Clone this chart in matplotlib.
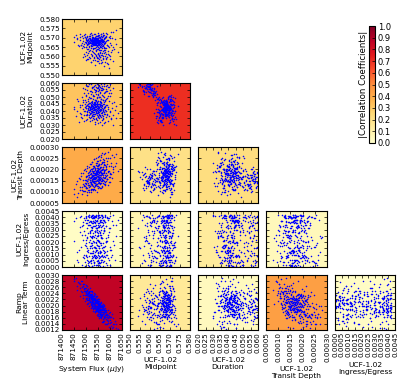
import numpy as np
import matplotlib
matplotlib.use('Agg')
import matplotlib.pyplot as plt
from matplotlib.ticker import FormatStrFormatter

# posterior samples: main clump, dense core of it, second clump, wide scatter, more of second clump
flux = [871452,871461,871468,871473,871477,871480,871484,871487,871489,871492,
871494,871496,871498,871499,871501,871502,871504,871505,871506,871508,
871509,871510,871511,871512,871513,871514,871515,871516,871516,871517,
871518,871519,871520,871520,871521,871522,871523,871523,871524,871525,
871525,871526,871527,871527,871528,871529,871529,871530,871531,871531,
871532,871533,871533,871534,871535,871535,871536,871537,871537,871538,
871539,871539,871540,871541,871541,871542,871543,871543,871544,871545,
871545,871546,871547,871548,871548,871549,871550,871551,871551,871552,
871553,871554,871555,871555,871556,871557,871558,871559,871560,871561,
871562,871563,871564,871565,871566,871568,871569,871570,871572,871573,
871575,871577,871579,871581,871583,871586,871589,871593,871598,871606,
871500,871503,871506,871508,871510,871512,871514,871516,871518,871519,
871521,871522,871524,871525,871526,871527,871528,871529,871530,871531,
871532,871533,871534,871535,871536,871537,871538,871539,871540,871541,
871542,871543,871544,871545,871546,871547,871548,871549,871550,871551,
871552,871553,871554,871555,871556,871557,871558,871559,871560,871561,
871562,871564,871565,871567,871569,871571,871574,871576,871580,871584,
871487,871493,871498,871502,871506,871510,871513,871516,871519,871522,
871525,871527,871530,871532,871535,871537,871540,871542,871544,871546,
871548,871550,871552,871554,871556,871558,871560,871562,871564,871566,
871568,871571,871573,871575,871578,871580,871583,871586,871589,871592,
871595,871598,871602,871606,871611,
871448,871458,871464,871470,871474,871478,871482,871485,871488,871490,
871493,871495,871497,871500,871502,871504,871506,871508,871510,871512,
871513,871515,871516,871518,871519,871521,871522,871523,871525,871526,
871527,871528,871530,871531,871532,871533,871534,871536,871537,871538,
871539,871540,871541,871542,871544,871545,871546,871547,871548,871549,
871550,871551,871552,871554,871555,871556,871557,871558,871559,871560,
871561,871562,871563,871564,871565,871566,871567,871568,871569,871570,
871571,871572,871574,871575,871576,871577,871578,871580,871581,871582,
871584,871585,871587,871588,871590,871592,871594,871596,871599,871602,
871604,871607,871609,871612,871614,871617,871620,871623,871627,871632,
871495,871503,871508,871514,871520,871524,871528,871533,871536,871539,
871541,871543,871547,871549,871551,871553,871555,871557,871559,871561,
871563,871565,871569,871572,871576,871579,871582,871585,871590,871597]

midpoint = [567.8,569.4,566.3,570.1,568.5,565.9,567.2,569.8,568.1,566.7,
570.6,567.5,568.9,565.2,569.1,567.9,566.1,568.4,570.3,567.1,
568.7,566.5,569.6,567.4,568.2,564.8,569.3,567.7,568.8,566.9,
570.9,568.3,567.0,569.0,565.7,568.6,567.6,569.7,566.4,568.0,
571.4,567.3,568.5,569.2,566.0,567.8,568.9,570.4,567.2,568.3,
566.6,569.5,568.1,567.5,564.2,568.7,570.0,567.0,569.1,568.4,
566.2,567.9,569.9,568.2,567.4,571.0,568.6,566.8,569.4,567.6,
568.0,565.5,569.0,567.3,570.7,568.8,566.3,567.7,569.3,568.5,
563.6,567.1,568.3,570.2,566.7,569.6,567.8,568.9,565.0,568.2,
571.9,567.4,569.2,566.5,568.6,570.5,567.9,568.1,572.6,566.9,
569.7,568.4,564.5,567.5,570.8,566.1,568.7,569.0,567.2,573.1,
567.3,568.6,566.4,569.1,567.9,568.2,566.9,569.5,567.6,568.4,
566.2,568.8,567.1,569.3,568.0,567.5,566.6,568.7,567.8,569.0,
568.3,566.8,567.4,569.7,568.1,566.5,568.5,567.2,569.2,567.7,
568.9,566.3,567.0,568.6,569.4,567.9,566.7,568.2,567.3,569.6,
568.4,566.1,567.6,568.8,567.1,569.8,568.0,566.4,567.5,568.5,
569.0,566.9,567.8,568.3,566.0,568.7,567.2,569.3,567.4,568.1,
559.8,561.4,557.9,562.3,560.5,558.6,563.1,559.2,561.0,556.8,
560.1,562.7,558.2,559.5,561.8,555.2,560.8,563.6,557.4,559.0,
561.2,558.9,562.0,560.3,556.2,559.7,561.6,558.0,563.3,560.6,
557.1,559.3,561.9,554.6,560.0,562.5,558.4,559.9,556.5,561.3,
553.8,560.4,558.7,562.1,557.6,
570.5,571.2,569.9,565.3,571.8,566.2,564.4,570.9,565.8,571.5,
564.9,570.2,572.1,565.1,569.7,563.9,571.0,566.6,564.1,570.7,
565.4,571.7,563.4,569.8,566.0,572.4,564.7,570.4,565.6,571.3,
566.9,563.7,570.0,564.3,571.9,565.9,569.5,572.0,564.6,566.4,
570.6,563.2,571.1,565.2,569.9,564.0,570.8,566.1,572.3,565.0,
563.8,571.4,566.5,570.3,564.5,571.6,565.7,569.6,563.5,570.1,
564.8,571.0,566.3,572.2,565.5,570.5,564.2,569.4,571.2,563.1,
565.3,570.9,566.8,564.7,571.5,565.0,570.2,563.6,569.9,572.5,
564.4,570.6,566.0,571.8,565.6,562.8,570.4,564.9,569.7,571.1,
566.2,563.3,570.0,565.1,572.8,564.1,569.5,566.7,574.2,562.2,
560.3,558.4,561.7,559.6,557.0,560.9,562.1,559.1,561.1,558.1,
560.2,563.0,559.4,557.7,561.5,560.7,558.5,562.4,559.6,556.6,
560.9,561.9,558.8,560.0,563.4,557.2,559.3,561.4,555.8,560.5]

duration = [43.2,40.1,46.8,38.5,42.7,35.9,44.6,41.3,48.2,37.4,
45.1,39.8,43.9,33.6,41.9,46.3,38.2,44.2,36.8,42.4,
47.4,40.6,35.4,43.5,39.3,45.8,41.2,37.9,49.1,42.1,
34.8,44.8,40.3,38.9,46.1,42.9,36.4,43.7,41.5,39.5,
37.2,45.4,41.8,44.1,35.1,40.8,48.6,38.1,43.1,42.3,
46.6,39.1,36.1,44.4,41.1,37.7,43.3,47.8,40.4,45.6,
32.4,42.6,38.7,46.9,41.6,34.2,44.9,39.9,43.6,37.0,
45.2,40.9,49.7,36.6,42.0,38.4,47.1,43.8,35.6,41.4,
39.2,44.7,37.5,42.8,50.3,40.7,46.4,36.2,43.4,45.9,
38.8,41.7,44.3,29.8,42.2,39.6,47.6,35.3,40.0,43.0,
31.5,46.2,41.0,37.8,44.5,49.4,36.9,42.5,39.0,34.4,
42.1,44.6,39.8,43.3,41.2,45.5,40.6,42.8,38.9,44.1,
41.7,43.9,40.1,46.2,42.4,39.4,44.9,41.0,43.5,38.2,
45.1,42.0,40.9,43.1,37.6,44.4,41.5,46.7,39.6,42.7,
43.7,40.3,45.8,41.9,38.6,44.0,42.3,39.1,47.0,41.3,
43.2,40.7,45.3,38.0,42.6,44.7,39.9,41.6,43.6,46.0,
40.4,42.9,37.1,44.3,41.1,45.0,39.3,42.2,43.8,40.0,
56.2,53.1,58.4,51.7,55.0,57.6,49.8,54.3,59.2,52.4,
56.9,53.8,57.1,50.6,55.6,58.8,54.7,52.1,56.4,59.6,
51.2,57.3,54.0,55.3,58.1,53.4,50.2,56.7,48.9,54.9,
57.9,55.9,52.8,59.0,53.6,47.6,56.0,58.3,54.5,51.0,
57.0,55.1,59.4,52.6,56.5,
41.2,36.1,48.5,31.9,44.0,38.0,50.1,35.0,46.7,40.2,
33.0,47.9,42.6,36.9,51.0,39.4,34.1,45.3,48.8,37.3,
43.0,32.7,46.0,40.5,35.7,49.5,38.6,44.4,33.9,47.2,
41.8,36.5,50.6,39.0,34.6,45.7,42.2,30.9,48.0,37.9,
44.8,35.3,47.5,40.0,33.3,49.0,38.3,46.5,36.0,43.4,
31.2,45.1,39.7,50.0,34.9,42.0,47.0,37.0,44.6,32.1,
48.3,40.8,35.5,46.2,38.8,51.5,33.6,43.7,41.0,36.3,
47.7,34.3,45.0,39.3,49.8,37.6,42.8,32.4,46.8,40.3,
35.9,48.9,38.1,44.2,33.2,41.5,47.3,36.7,50.4,39.8,
34.7,45.6,42.4,37.2,30.1,46.1,40.7,35.2,43.8,38.4,
55.5,57.8,52.9,59.1,54.6,56.3,51.4,58.0,55.2,53.5,
57.4,54.1,59.8,56.1,52.2,58.6,55.7,53.0,57.2,54.8,
59.3,56.6,50.9,55.4,58.2,53.7,57.5,54.4,56.8,52.5]

depth = [11.2,14.6,9.4,15.8,12.3,16.9,10.7,13.5,18.2,12.8,
15.1,10.3,19.4,13.9,16.4,12.1,14.8,20.7,11.9,17.3,
15.6,13.2,18.8,10.9,16.7,21.1,14.2,17.9,12.6,19.8,
15.3,22.4,13.7,18.1,16.2,11.4,20.2,14.9,17.4,19.1,
13.1,16.8,23.2,15.4,18.6,12.4,20.8,17.1,14.5,19.3,
16.3,21.6,13.9,18.4,15.7,24.8,17.8,12.9,19.9,16.1,
20.6,14.7,18.3,22.9,16.5,19.2,13.4,17.6,21.4,15.2,
18.9,23.7,16.9,20.1,14.1,19.6,25.4,17.2,21.8,15.9,
20.4,13.8,18.7,22.2,16.6,24.1,19.1,15.4,21.2,17.7,
19.7,26.3,16.2,22.7,18.2,14.6,20.9,24.6,17.5,21.9,
19.4,23.3,16.7,27.2,20.3,15.8,22.4,25.1,18.6,21.5,
13.5,16.9,14.8,18.3,15.6,13.2,17.4,15.1,19.2,14.3,
16.8,18.6,15.4,20.1,17.2,14.6,18.9,16.3,21.3,15.8,
17.7,19.5,14.9,16.6,20.4,18.1,15.7,17.3,22.1,19.0,
16.2,18.4,20.8,15.3,17.9,19.7,16.7,21.7,18.7,14.7,
17.0,20.2,18.2,16.0,22.6,19.3,17.5,20.6,15.9,18.8,
21.0,17.6,19.9,23.4,16.4,20.0,18.5,22.3,19.6,21.4,
10.2,13.1,11.6,15.3,9.7,13.9,12.2,16.1,14.0,10.8,
15.7,12.9,17.2,14.4,11.3,16.5,13.4,15.0,18.3,12.5,
16.9,14.7,11.9,17.7,15.5,13.7,19.1,14.9,16.3,12.1,
17.9,15.2,13.3,18.8,16.0,14.2,20.3,15.8,17.4,13.0,
19.4,16.7,14.5,18.1,21.2,
9.1,13.3,7.8,16.2,10.9,18.3,12.1,8.9,15.2,19.7,
10.4,14.1,20.4,11.6,17.0,8.4,21.5,13.0,15.9,10.1,
18.9,12.7,22.2,14.5,9.8,16.8,20.0,11.3,19.1,13.6,
23.4,15.0,10.7,17.6,21.0,12.2,24.6,14.0,18.5,11.0,
20.7,16.0,25.3,13.2,19.4,22.8,10.0,17.2,15.5,23.9,
12.5,20.5,18.0,26.1,14.3,21.9,16.6,11.7,24.0,19.0,
13.8,22.5,17.4,25.7,15.2,20.2,27.4,12.8,18.6,23.1,
16.4,21.2,26.8,14.8,19.8,24.4,17.7,22.0,13.4,20.9,
25.0,18.2,15.6,23.6,27.9,19.5,21.6,14.2,24.9,17.9,
22.9,16.2,26.4,20.3,18.8,25.5,21.7,23.0,27.0,19.2,
12.4,15.0,10.6,16.4,13.6,17.5,11.1,14.3,16.0,12.7,
18.0,14.8,13.5,16.6,19.3,12.0,15.4,17.3,14.1,11.5,
18.5,15.6,13.8,20.0,16.2,12.9,17.0,14.6,19.0,16.5]

ingress = [3.7,1.2,0.4,2.8,4.0,1.6,3.3,0.8,2.2,3.9,
0.1,2.6,4.1,1.0,3.5,1.9,0.6,3.1,2.4,3.8,
1.4,0.2,4.2,2.0,3.6,0.9,2.9,1.7,3.4,0.5,
2.5,4.0,1.1,3.2,0.3,3.7,1.5,2.3,4.1,0.7,
1.8,3.0,0.0,3.9,2.7,1.3,3.5,0.6,2.1,4.2,
1.0,3.6,2.4,0.4,3.3,1.6,3.8,2.9,0.8,4.0,
1.2,2.6,0.2,3.4,1.9,4.1,0.9,3.1,1.4,2.2,
3.7,0.5,2.8,1.7,3.9,1.1,0.3,3.5,2.5,4.2,
0.7,3.2,1.5,2.0,4.0,0.1,3.6,1.3,2.7,3.8,
1.8,0.6,3.0,4.1,1.0,2.3,3.4,0.4,1.6,3.7,
2.9,0.9,4.2,1.2,3.3,0.2,2.1,3.9,1.4,0.8,
0.9,3.8,1.5,2.7,0.3,3.4,4.0,1.1,2.2,3.6,
0.6,1.9,3.1,4.2,0.1,2.5,3.7,1.3,0.8,3.9,
2.0,1.6,4.1,0.4,2.9,3.3,1.0,3.5,0.7,2.3,
4.0,1.4,3.0,0.2,1.8,3.7,2.6,0.5,3.2,1.2,
3.9,2.1,0.9,4.2,1.7,3.4,0.3,2.8,1.1,3.6,
0.6,2.4,4.1,1.5,3.8,0.8,1.3,3.1,0.0,2.0,
3.4,0.7,2.2,3.9,1.3,4.1,0.4,2.8,3.6,1.7,
0.1,3.2,2.5,4.0,0.9,1.5,3.7,2.0,0.5,3.0,
4.2,1.1,2.7,3.5,0.3,1.9,3.8,2.3,1.2,3.3,
0.6,4.0,2.9,1.6,3.6,0.8,2.1,3.9,1.0,2.6,
3.1,0.2,4.1,1.4,3.4,
2.1,3.9,0.6,1.4,3.2,4.1,0.2,2.6,3.6,1.0,
2.9,0.4,3.8,1.7,4.0,2.3,0.8,3.4,1.2,4.2,
0.1,2.7,3.7,1.5,3.0,0.5,4.1,1.9,3.5,0.9,
2.4,4.0,1.1,3.3,0.3,2.0,3.9,1.6,2.8,0.7,
3.6,1.3,4.2,0.0,2.5,3.1,1.8,3.8,0.6,2.2,
4.1,1.0,3.4,0.2,2.9,1.5,3.7,0.8,4.0,1.2,
2.6,0.4,3.2,1.9,3.9,0.9,2.3,4.2,1.4,3.5,
0.1,2.7,3.8,1.1,3.0,0.5,4.1,1.7,3.6,2.0,
0.3,3.3,1.3,4.0,2.4,0.7,3.9,2.8,1.6,3.1,
0.0,3.7,1.0,2.1,4.2,1.8,0.6,3.4,2.5,3.8,
1.8,3.5,0.5,4.0,2.4,1.1,3.7,0.2,2.9,4.1,
1.5,3.1,0.8,2.1,3.9,0.4,3.3,1.3,2.6,4.2,
0.9,3.6,1.9,0.0,3.0,4.0,1.0,2.3,3.8,0.6]

ramp = [2.86,2.65,2.77,2.58,2.71,2.46,2.60,2.63,2.36,2.49,
2.34,2.57,2.36,2.48,2.24,2.40,2.52,2.25,2.39,2.30,
2.43,2.17,2.35,2.24,2.43,2.18,2.28,2.35,2.10,2.29,
2.16,2.36,2.10,2.25,2.29,2.03,2.31,2.16,2.25,2.08,
2.27,2.11,2.30,2.02,2.17,2.25,2.06,2.18,1.97,2.24,
2.05,2.22,2.00,2.26,2.09,1.93,2.15,2.02,2.19,1.93,
2.09,1.95,2.17,2.00,2.12,1.84,2.07,1.89,2.16,1.99,
1.86,2.07,1.93,2.11,1.88,1.98,2.06,1.78,1.99,1.92,
2.03,1.79,1.94,2.04,1.80,1.95,1.71,1.97,1.88,1.79,
1.97,1.73,1.87,1.67,1.89,1.95,1.71,1.79,1.87,1.64,
1.79,1.59,1.79,1.63,1.79,1.54,1.64,1.69,1.42,1.32,
2.42,2.18,2.46,2.39,2.08,2.48,2.22,2.13,2.39,2.23,
2.06,2.28,2.39,1.96,2.18,2.07,2.31,1.88,2.18,2.24,
2.09,2.30,1.92,2.18,1.83,2.11,2.20,1.95,2.29,1.90,
2.10,1.81,2.14,1.96,2.22,1.82,2.01,2.13,1.67,2.04,
1.83,2.14,1.87,2.03,1.66,1.95,2.06,1.72,1.87,2.09,
1.66,1.88,2.01,1.71,1.92,1.55,1.84,1.89,1.61,1.68,
2.72,2.58,2.44,2.66,2.36,2.54,2.30,2.47,2.22,2.39,
2.15,2.33,2.10,2.41,2.04,2.26,2.12,1.98,2.19,1.93,
2.07,1.88,2.14,1.95,2.02,1.82,2.08,1.86,1.97,1.78,
1.90,1.99,1.74,1.84,1.93,1.70,1.80,1.62,1.72,1.58,
1.67,1.54,1.63,1.46,1.39,
2.80,2.91,2.50,2.75,2.32,2.80,2.43,2.79,2.24,2.53,
2.70,2.15,2.48,2.57,2.22,2.06,2.63,2.41,2.07,2.41,
2.00,2.57,2.27,2.11,2.46,1.91,2.34,2.47,1.98,2.23,
2.45,1.92,2.24,1.81,2.30,2.04,2.35,1.79,2.39,2.09,
1.78,2.31,1.88,2.11,2.32,1.69,2.14,1.89,2.21,1.71,
2.23,1.73,2.00,1.58,2.08,2.23,1.61,1.90,1.70,2.07,
1.60,1.97,2.13,1.64,1.86,1.47,2.00,1.68,2.04,1.47,
1.93,1.48,1.97,1.66,2.02,1.49,1.81,1.38,1.87,1.70,
1.40,1.87,1.69,1.41,1.86,1.42,1.74,1.30,1.62,1.78,
1.61,1.27,1.71,1.29,1.59,1.39,1.49,1.26,1.38,1.24,
2.48,2.25,2.41,2.18,2.32,2.07,2.24,1.99,2.20,1.96,
2.13,1.89,2.09,1.84,2.04,1.91,1.78,2.02,1.74,1.95,
1.69,1.88,1.72,1.94,1.63,1.81,1.55,1.72,1.50,1.61]

# panel background, |r| per row, first column on the left
corr_midpoint = [0.27]
corr_duration = [0.32, 0.70]
corr_depth = [0.40, 0.20, 0.22]
corr_ingress = [0.02, 0.08, 0.14, 0.05]
corr_ramp = [0.86, 0.15, 0.04, 0.44, 0.02]

names = ['System Flux ($\\mu$Jy)', 'UCF-1.02\nMidpoint', 'UCF-1.02\nDuration',
         'UCF-1.02\nTransit Depth', 'UCF-1.02\nIngress/Egress', 'Ramp\nLinear Term']
limits = [(871400, 871650), (0.55, 0.58), (0.02, 0.06), (0.00005, 0.0003), (0.0, 0.0045), (0.0012, 0.003)]
steps = [50, 0.005, 0.005, 0.00005, 0.0005, 0.0002]
formats = ['%d', '%.3f', '%.3f', '%.5f', '%.4f', '%.4f']

samples = [np.array(flux, dtype=float), np.array(midpoint) * 1e-3, np.array(duration) * 1e-3,
           np.array(depth) * 1e-5, np.array(ingress) * 1e-3, np.array(ramp) * 1e-3]
corrs = [None, corr_midpoint, corr_duration, corr_depth, corr_ingress, corr_ramp]

W, H = 415.0, 389.0
col_x = [(62, 122), (130, 190), (198, 258), (266, 327), (335, 395)]
row_y = [(19, 75), (83, 139), (147, 203), (211, 267), (275, 330)]
cmap = plt.get_cmap('YlOrRd')

fig = plt.figure(figsize=(4.15, 3.89), dpi=100)


def setTicks(axis, idx):
    lo, hi = limits[idx]
    n = int(round((hi - lo) / steps[idx]))
    axis.set_ticks([lo + k * steps[idx] for k in range(n + 1)])
    axis.set_major_formatter(FormatStrFormatter(formats[idx]))


for i in range(1, 6):
    for j in range(i):
        x0, x1 = col_x[j]
        y0, y1 = row_y[i - 1]
        ax = fig.add_axes([x0 / W, 1 - y1 / H, (x1 - x0) / W, (y1 - y0) / H])
        ax.set_facecolor(cmap(corrs[i][j]))
        ax.plot(samples[j], samples[i], '.', color='b', ms=2.2, mew=0)
        ax.set_xlim(limits[j])
        ax.set_ylim(limits[i])
        setTicks(ax.xaxis, j)
        setTicks(ax.yaxis, i)
        ax.tick_params(direction='in', top=True, right=True, length=2, width=0.5, labelsize=5.2, pad=1.5)
        for s in ax.spines.values():
            s.set_linewidth(0.8)
        if i == 5:
            ax.tick_params(axis='x', labelrotation=90)
            ax.set_xlabel(names[j], fontsize=5.4, labelpad=3)
        else:
            ax.set_xticklabels([])
        if j == 0:
            ax.set_ylabel(names[i], fontsize=5.4, labelpad=4)
        else:
            ax.set_yticklabels([])

cax = fig.add_axes([369 / W, 1 - 143 / H, 6 / W, 117 / H])
sm = plt.cm.ScalarMappable(cmap=cmap, norm=plt.Normalize(0, 1))
cb = fig.colorbar(sm, cax=cax, ticks=[k / 10.0 for k in range(11)])
cb.ax.tick_params(labelsize=6, length=2, width=0.5, direction='in', pad=2)
cb.outline.set_linewidth(0.8)
cb.ax.yaxis.set_label_position('left')
cb.set_label('|Correlation Coefficients|', fontsize=6.2, labelpad=1)

fig.savefig('out.png', dpi=100)
